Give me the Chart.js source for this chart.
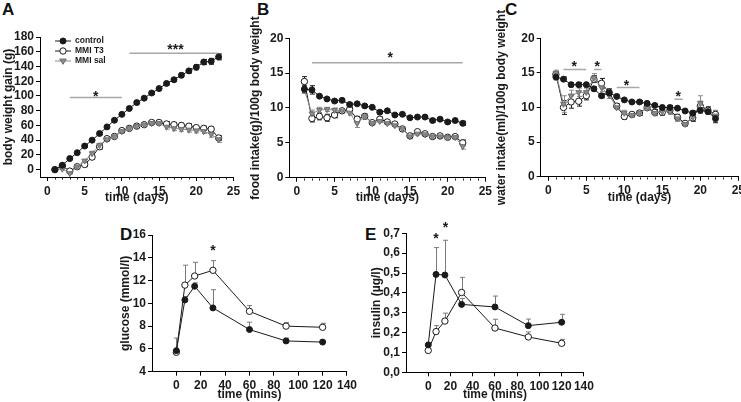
<!DOCTYPE html>
<html>
<head>
<meta charset="utf-8">
<script src="https://cdn.jsdelivr.net/npm/chart.js@4.4.1/dist/chart.umd.min.js"></script>
<style>
  body { margin: 0; width: 741px; height: 402px; overflow: hidden; background: #fff; position: relative;
         font-family: 'Liberation Sans', Arial, sans-serif; }
  canvas { position: absolute; }
  .tag { position: absolute; font-weight: bold; font-size: 17px; line-height: 17px; color: #111; }
</style>
</head>
<body>
<div class="tag" style="left:2px;top:1px">A</div>
<div class="tag" style="left:257px;top:1px">B</div>
<div class="tag" style="left:505px;top:1px">C</div>
<div class="tag" style="left:120px;top:226px">D</div>
<div class="tag" style="left:365px;top:226px">E</div>
<canvas id="chartA"></canvas>
<canvas id="chartB"></canvas>
<canvas id="chartC"></canvas>
<canvas id="chartD"></canvas>
<canvas id="chartE"></canvas>
<script>
const seriesNames = ['control', 'MMI T3', 'MMI sal'];

// A: body weight gain (g)
const daysA = [1, 2, 3, 4, 5, 6, 7, 8, 9, 10, 11, 12, 13, 14, 15, 16, 17, 18, 19, 20, 21, 22, 23];
const ctrlA = [0, 6, 15, 23, 32, 40, 49, 58, 67, 75, 83, 91, 97, 104, 110, 117, 122, 128, 134, 139, 146, 147, 153];
const t3A   = [0, 5, -2, 4, 7, 17, 31, 42, 45, 53, 56, 59, 61, 64, 64, 62, 61, 60, 59, 57, 56, 55, 43];
const salA  = [0, 1, -5, 4, 12, 22, 33, 41, 45, 52, 56, 59, 61, 63, 63, 58, 56, 55, 54, 53, 52, 48, 41];
const ctrlAErr = [1, 1, 1, 1, 1.5, 1.5, 1.5, 1.5, 1.5, 1.5, 1.5, 1.5, 1.5, 2, 2, 2, 2.5, 3, 3, 3.5, 3.5, 4, 4];
const t3AErr   = [1, 1, 1, 2, 3, 3, 3, 2, 2, 2, 2, 2, 2, 2, 2, 3, 3, 3, 3, 3, 3, 3, 3];
const salAErr  = [1, 1, 1, 2, 2, 3, 3, 2, 2, 2, 2, 2, 2, 2, 2, 3, 3, 3, 3, 3, 3, 4, 4];
const sigA   = [[3, 10, 98], [11, 23, 158]];
const starsA = [[6.5, 103, '*'], [17.2, 167, '***']];

// B: food intake(g)/100g body weight
const daysB = [1, 2, 3, 4, 5, 6, 7, 8, 9, 10, 11, 12, 13, 14, 15, 16, 17, 18, 19, 20, 21, 22];
const ctrlB = [12.7, 12.6, 11.7, 11.3, 11.0, 11.1, 10.5, 10.6, 10.3, 10.1, 9.4, 9.6, 9.0, 9.1, 8.6, 8.7, 8.7, 8.2, 8.4, 8.0, 8.2, 7.8];
const t3B   = [13.8, 8.5, 8.8, 8.6, 9.0, 9.6, 9.8, 8.4, 8.8, 7.9, 8.4, 8.0, 7.7, 7.0, 6.0, 6.6, 6.3, 5.9, 6.0, 5.8, 5.9, 5.0];
const salB  = [12.6, 9.2, 9.7, 9.8, 9.7, 9.6, 9.3, 7.8, 8.8, 7.8, 8.1, 7.8, 7.5, 7.0, 5.9, 6.3, 6.2, 5.9, 5.9, 5.8, 5.8, 4.5];
const ctrlBErr = [0.5, 0.6, 0.2, 0.2, 0.2, 0.2, 0.2, 0.2, 0.2, 0.2, 0.2, 0.2, 0.2, 0.2, 0.2, 0.2, 0.2, 0.2, 0.2, 0.2, 0.2, 0.3];
const t3BErr   = [0.7, 0.5, 0.5, 0.5, 0.4, 0.3, 0.3, 0.4, 0.3, 0.2, 0.3, 0.2, 0.2, 0.2, 0.3, 0.2, 0.2, 0.2, 0.2, 0.2, 0.2, 0.4];
const salBErr  = [0.5, 0.5, 0.4, 0.3, 0.3, 0.3, 0.3, 0.6, 0.3, 0.2, 0.2, 0.2, 0.2, 0.2, 0.3, 0.2, 0.2, 0.2, 0.2, 0.2, 0.2, 0.4];
const sigB   = [[2, 22, 16.5]];
const starsB = [[12.4, 17.6, '*']];

// C: water intake(ml)/100g body weight
const daysC = [1, 2, 3, 4, 5, 6, 7, 8, 9, 10, 11, 12, 13, 14, 15, 16, 17, 18, 19, 20, 21, 22];
const ctrlC = [14.4, 14.1, 13.3, 13.3, 13.3, 12.7, 11.7, 12.1, 11.6, 11.1, 10.8, 10.8, 10.6, 10.3, 10.0, 10.0, 9.9, 9.5, 9.2, 9.6, 9.4, 8.4];
const t3C   = [14.8, 10.0, 10.8, 10.9, 11.7, 14.1, 13.5, 12.2, 10.2, 8.7, 9.0, 9.2, 10.0, 9.3, 9.3, 9.6, 8.6, 7.7, 8.5, 10.2, 9.6, 9.0];
const salC  = [15.0, 10.5, 11.7, 12.2, 12.2, 14.3, 12.9, 11.8, 10.0, 9.2, 8.9, 9.2, 9.9, 9.2, 9.4, 9.4, 8.4, 7.6, 8.6, 10.6, 9.5, 8.8];
const ctrlCErr = [0.4, 0.3, 0.3, 0.3, 0.3, 0.3, 0.3, 0.3, 0.2, 0.2, 0.2, 0.2, 0.2, 0.2, 0.3, 0.3, 0.2, 0.2, 0.3, 0.4, 0.3, 0.6];
const t3CErr   = [0.4, 1.0, 0.9, 0.7, 0.6, 0.5, 0.7, 0.5, 0.3, 0.4, 0.3, 0.3, 0.3, 0.4, 0.4, 0.4, 0.4, 0.3, 0.5, 0.7, 0.5, 0.5];
const salCErr  = [0.4, 1.2, 0.8, 0.6, 0.6, 0.6, 0.6, 0.5, 0.3, 0.4, 0.3, 0.3, 0.3, 0.4, 0.4, 0.4, 0.4, 0.3, 0.5, 1.1, 0.5, 0.8];
const sigC   = [[2, 5, 15.5], [6, 7, 15.5], [9, 12, 12.9], [16.6, 17.7, 11.2]];
const starsC = [[3.4, 16.3, '*'], [6.45, 16.3, '*'], [10.3, 13.6, '*'], [17.1, 11.95, '*']];

// D/E: tolerance test over time (mins)
const timesGTT = [0, 7, 15, 30, 60, 90, 120];
const ctrlD = [5.85, 10.3, 11.5, 9.6, 7.7, 6.7, 6.6];
const t3D   = [5.7, 11.6, 12.4, 12.9, 9.3, 8.0, 7.9];
const ctrlDErr = [1.1, 0.3, 0.3, 1.6, 0.65, 0.25, 0.1];
const t3DErr   = [0.2, 1.75, 1.2, 0.85, 0.5, 0.3, 0.35];
const starsD = [[30, 14.9, '*']];

const ctrlE = [0.138, 0.493, 0.49, 0.342, 0.329, 0.235, 0.252];
const t3E   = [0.11, 0.205, 0.258, 0.402, 0.223, 0.178, 0.146];
const ctrlEErr = [0.01, 0.135, 0.175, 0.03, 0.055, 0.033, 0.04];
const t3EErr   = [0.005, 0.03, 0.04, 0.076, 0.044, 0.025, 0.02];
const starsE = [[7, 0.686, '*'], [15.4, 0.742, '*']];

Chart.defaults.font.family = "'Liberation Sans', Arial, sans-serif";
Chart.defaults.font.size = 12;
Chart.defaults.font.weight = 'bold';

const INK = '#1a1a1a';
const GREY = '#8c8c8c';
const SIG = '#a8a8a8';

function xy(xs, ys) {
  return xs.map((x, i) => ({ x: x, y: ys[i] }));
}

function series(xs, ys, kind) {
  const base = { data: xy(xs, ys), borderWidth: 1, tension: 0, pointBorderWidth: 1, fill: false };
  if (kind === 'ctrl') {
    return Object.assign(base, { label: seriesNames[0], borderColor: INK, pointStyle: 'circle', pointRadius: 3,
      pointBackgroundColor: INK, pointBorderColor: INK, order: 0 });
  }
  if (kind === 't3') {
    return Object.assign(base, { label: seriesNames[1], borderColor: INK, pointStyle: 'circle', pointRadius: 3.2,
      pointBackgroundColor: '#fff', pointBorderColor: INK, order: 2 });
  }
  return Object.assign(base, { label: seriesNames[2], borderColor: GREY, pointStyle: 'triangle', pointRotation: 180,
    pointRadius: 3.3, pointBackgroundColor: GREY, pointBorderColor: '#707070', order: 1 });
}

function sigLine(s) {
  return { data: [{ x: s[0], y: s[2] }, { x: s[1], y: s[2] }], borderColor: SIG, borderWidth: 1.5,
    pointRadius: 0, fill: false, order: 5 };
}

// error bars under the markers
const errorBars = {
  id: 'errorBars',
  beforeDatasetsDraw(chart, args, opts) {
    if (!opts.errs) return;
    const { ctx } = chart;
    const x = chart.scales.x, y = chart.scales.y;
    ctx.save();
    ctx.lineWidth = 1;
    opts.errs.forEach((errs, di) => {
      const ds = chart.data.datasets[di];
      ctx.strokeStyle = opts.color || ds.borderColor;
      ds.data.forEach((p, i) => {
        const e = errs[i];
        if (!e) return;
        const px = Math.round(x.getPixelForValue(p.x)) + 0.5;
        const top = y.getPixelForValue(p.y + e);
        const bot = y.getPixelForValue(opts.upOnly ? p.y : p.y - e);
        ctx.beginPath();
        ctx.moveTo(px, top); ctx.lineTo(px, bot);
        ctx.moveTo(px - 2.5, top); ctx.lineTo(px + 2.5, top);
        if (!opts.upOnly) { ctx.moveTo(px - 2.5, bot); ctx.lineTo(px + 2.5, bot); }
        ctx.stroke();
      });
    });
    ctx.restore();
  }
};

// minor day ticks, asterisks, legend
const extras = {
  id: 'extras',
  afterDraw(chart, args, opts) {
    const { ctx, chartArea } = chart;
    const x = chart.scales.x, y = chart.scales.y;
    const bx = Math.round(chartArea.bottom) + 0.5;
    ctx.save();
    if (opts.minor) {
      ctx.strokeStyle = INK; ctx.lineWidth = 1;
      ctx.beginPath();
      opts.minor.forEach(v => {
        const px = Math.round(x.getPixelForValue(v)) + 0.5;
        ctx.moveTo(px, bx); ctx.lineTo(px, bx + 2);
      });
      ctx.stroke();
    }
    if (opts.stars) {
      ctx.fillStyle = INK;
      ctx.font = "bold 14px 'Liberation Sans', Arial, sans-serif";
      ctx.textAlign = 'center';
      ctx.textBaseline = 'alphabetic';
      opts.stars.forEach(s => {
        ctx.fillText(s[2], x.getPixelForValue(s[0]), y.getPixelForValue(s[1]) + 7);
      });
    }
    if (opts.legend) {
      const L = opts.legend;
      ctx.font = "bold 8.5px 'Liberation Sans', Arial, sans-serif";
      ctx.textAlign = 'left';
      ctx.textBaseline = 'middle';
      L.items.forEach((di, k) => {
        const ds = chart.data.datasets[di];
        const ly = L.y + k * L.dy;
        ctx.strokeStyle = ds.borderColor; ctx.lineWidth = 1;
        ctx.beginPath(); ctx.moveTo(L.x, ly); ctx.lineTo(L.x + L.w, ly); ctx.stroke();
        const mx = L.x + L.w / 2;
        ctx.fillStyle = ds.pointBackgroundColor; ctx.strokeStyle = ds.pointBorderColor;
        ctx.beginPath();
        if (ds.pointStyle === 'triangle') {
          const r = ds.pointRadius;
          ctx.moveTo(mx - r, ly - r * 0.6); ctx.lineTo(mx + r, ly - r * 0.6); ctx.lineTo(mx, ly + r);
          ctx.closePath();
        } else {
          ctx.arc(mx, ly, ds.pointRadius, 0, Math.PI * 2);
        }
        ctx.fill(); ctx.stroke();
        ctx.fillStyle = INK;
        ctx.fillText(ds.label, L.x + L.w + 4, ly);
      });
    }
    ctx.restore();
  }
};

function makePanel(p) {
  const c = document.getElementById(p.id);
  c.width = p.box.w; c.height = p.box.h;
  c.style.left = p.box.x + 'px'; c.style.top = p.box.y + 'px';
  const yw = p.area.l - p.box.x;
  const xh = p.box.y + p.box.h - p.area.b;
  return new Chart(c, {
    type: 'line',
    data: { datasets: p.datasets },
    plugins: [errorBars, extras],
    options: {
      responsive: false,
      animation: false,
      layout: { padding: { left: 0, top: p.area.t - p.box.y, right: p.box.x + p.box.w - p.area.r, bottom: 0 } },
      plugins: {
        legend: { display: false },
        tooltip: { enabled: false },
        errorBars: { errs: p.errs, upOnly: p.upOnly, color: p.errColor },
        extras: { minor: p.minor, stars: p.stars, legend: p.legend }
      },
      scales: {
        x: {
          type: 'linear', min: p.xMin, max: p.xMax,
          afterBuildTicks: s => { s.ticks = s.ticks.filter(t => t.value >= 0); },
          afterFit: s => { s.height = xh; },
          ticks: { color: INK, stepSize: p.xStep, autoSkip: false, includeBounds: false, maxRotation: 0, padding: 3 },
          grid: { drawOnChartArea: false, tickLength: 4, color: '#000', lineWidth: 1 },
          border: { color: '#000', width: 1 },
          title: { display: true, color: INK, text: p.xTitle, padding: { top: 0, bottom: p.xtp } }
        },
        y: {
          type: 'linear', min: p.yMin, max: p.yMax,
          afterFit: s => { s.width = yw; },
          ticks: { color: INK, stepSize: p.yStep, autoSkip: false, includeBounds: false, padding: 2, callback: p.yFmt || (v => v) },
          grid: { drawOnChartArea: false, tickLength: 4, color: '#000', lineWidth: 1 },
          border: { color: '#000', width: 1 },
          title: { display: true, color: INK, text: p.yTitle, padding: { top: p.ytp, bottom: 0 } }
        }
      }
    }
  });
}

const minorDays = [];
for (let d = 0; d <= 25; d++) if (d % 5 !== 0) minorDays.push(d);

makePanel({
  id: 'chartA', box: { x: 0, y: 0, w: 250, h: 205 }, area: { l: 40, t: 37, r: 233.5, b: 177 },
  datasets: [series(daysA, ctrlA, 'ctrl'), series(daysA, t3A, 't3'), series(daysA, salA, 'sal')].concat(sigA.map(sigLine)),
  errs: [ctrlAErr, t3AErr, salAErr], minor: minorDays, stars: starsA,
  legend: { x: 55, y: 41, dy: 10, w: 16, items: [0, 1, 2] },
  xMin: -1, xMax: 25, xStep: 5, xTitle: 'time (days)', xtp: 0,
  yMin: -10, yMax: 180, yStep: 20, yTitle: 'body weight gain (g)', ytp: 1
});

makePanel({
  id: 'chartB', box: { x: 245, y: 0, w: 250, h: 205 }, area: { l: 289.3, t: 38.3, r: 486.7, b: 177.7 },
  datasets: [series(daysB, ctrlB, 'ctrl'), series(daysB, t3B, 't3'), series(daysB, salB, 'sal')].concat(sigB.map(sigLine)),
  errs: [ctrlBErr, t3BErr, salBErr], minor: minorDays, stars: starsB,
  xMin: -1, xMax: 25, xStep: 5, xTitle: 'time (days)', xtp: 0,
  yMin: 0, yMax: 20, yStep: 5, yTitle: 'food intake(g)/100g body weight', ytp: 3
});

makePanel({
  id: 'chartC', box: { x: 492, y: 0, w: 256, h: 205 }, area: { l: 540.7, t: 38.3, r: 738.3, b: 176.7 },
  datasets: [series(daysC, ctrlC, 'ctrl'), series(daysC, t3C, 't3'), series(daysC, salC, 'sal')].concat(sigC.map(sigLine)),
  errs: [ctrlCErr, t3CErr, salCErr], minor: minorDays, stars: starsC,
  xMin: -1, xMax: 25, xStep: 5, xTitle: 'time (days)', xtp: 0,
  yMin: 0, yMax: 20, yStep: 5, yTitle: 'water intake(ml)/100g body weight', ytp: 2
});

makePanel({
  id: 'chartD', box: { x: 110, y: 205, w: 250, h: 197 }, area: { l: 152, t: 235, r: 349.7, b: 371.7 },
  datasets: [series(timesGTT, ctrlD, 'ctrl'), series(timesGTT, t3D, 't3')],
  errs: [ctrlDErr, t3DErr], upOnly: true, errColor: '#7a7a7a', stars: starsD,
  xMin: -20, xMax: 140, xStep: 20, xTitle: 'time (mins)', xtp: 0,
  yMin: 4, yMax: 16, yStep: 2, yTitle: 'glucose (mmol/l)', ytp: 8
});

makePanel({
  id: 'chartE', box: { x: 360, y: 205, w: 240, h: 197 }, area: { l: 406, t: 233.3, r: 583.9, b: 372.3 },
  datasets: [series(timesGTT, ctrlE, 'ctrl'), series(timesGTT, t3E, 't3')],
  errs: [ctrlEErr, t3EErr], upOnly: true, errColor: '#7a7a7a', stars: starsE,
  xMin: -20, xMax: 140, xStep: 20, xTitle: 'time (mins)', xtp: 0,
  yMin: 0, yMax: 0.7, yStep: 0.1, yTitle: 'insulin (µg/l)', ytp: 9,
  yFmt: v => v.toFixed(1).replace('.', ',')
});
</script>
</body>
</html>
